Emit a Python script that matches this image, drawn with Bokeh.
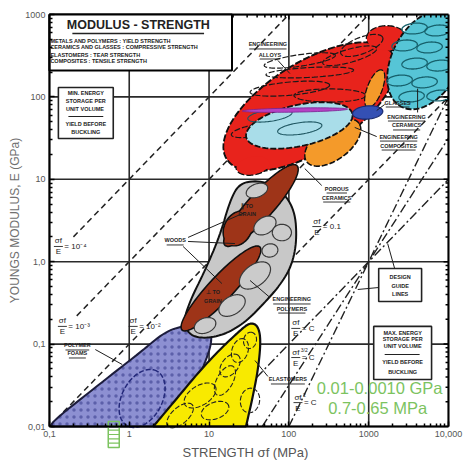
import numpy as np
from bokeh.plotting import figure
from bokeh.models import FixedTicker
from bokeh.core.properties import value
from bokeh.embed import file_html
from bokeh.resources import INLINE

# ---------------- axes ----------------
x_ticks = [0.1, 1, 10, 100, 1000, 10000]
x_tick_labels = ["0,1", "1", "10", "100", "1000", "10,000"]
y_ticks = [0.01, 0.1, 1, 10, 100, 1000]
y_tick_labels = ["0,01", "0,1", "1,0", "10", "100", "1000"]

# ---------------- guide lines: sigma_f / E = ratio ----------------
guide_ratio = [1e-4, 1e-3, 1e-2, 0.1]
guide_start_sigma = [0.2, 0.22, 0.1, 30]
guide_end_sigma = [100, 1000, 10000, 10000]
# design guide lines through one point, slopes 1, 3/2, 2
design_sigma0 = 1000.0
design_E0 = 1.0
design_slopes = [1.0, 1.5, 2.0]

# ---------------- material envelopes (sigma MPa, E GPa) ----------------
foam_sigma = [0.106, 0.109, 0.434, 1.37, 2.82, 5.0, 8.9, 10.9, 10.3, 6.7, 2.8]
foam_E = [0.01, 0.0115, 0.0333, 0.0791, 0.142, 0.168, 0.183, 0.138, 0.0835, 0.0315, 0.01]

elast_sigma = [2.0, 3.76, 7.72, 14.5, 24.4, 32.6, 41.0, 44.7, 41.0, 34.5, 29.0]
elast_E = [0.01, 0.0207, 0.0479, 0.091, 0.146, 0.183, 0.168, 0.111, 0.0479, 0.0207, 0.01]

poly_sigma = [24.4, 46.0, 81.7, 119, 126, 109, 77.2, 46.0, 28.2, 15.8, 8.91, 5.79, 4.73, 5.79, 8.91, 13.7, 18.3]
poly_E = [9.14, 9.66, 7.31, 4.18, 1.81, 0.90, 0.514, 0.294, 0.183, 0.131, 0.117, 0.127, 0.183, 0.338, 0.782, 2.08, 5.53]

# ellipses: centre sigma, centre E, semi-axes (decades), angle (deg)
wood_sigma = [44.7, 23.0, 14.1]
wood_E = [4.81, 2.53, 0.473]
wood_a = [0.66, 0.22, 0.70]
wood_b = [0.16, 0.17, 0.15]
wood_ang = [47, 60, 46]

pin_sigma = [39.8, 50.1, 81.7, 37.6, 19.4, 8.91, 57.9]
pin_E = [7.31, 2.75, 2.26, 0.681, 0.294, 0.168, 1.37]
pin_a = [0.14, 0.15, 0.12, 0.22, 0.18, 0.14, 0.10]
pin_b = [0.08, 0.10, 0.10, 0.13, 0.11, 0.09, 0.08]
pin_ang = [20, 30, 0, 35, 30, 20, 10]

foam_in_sigma, foam_in_E, foam_in_a, foam_in_b, foam_in_ang = 1.45, 0.0219, 0.38, 0.25, 60

yin_sigma = [7.72, 15.8, 24.4, 11.9, 32.6, 4.34, 18.3, 32.6]
yin_E = [0.0238, 0.0361, 0.0835, 0.0156, 0.0207, 0.0136, 0.055, 0.111]
yin_a = [0.22, 0.20, 0.15, 0.18, 0.15, 0.20, 0.16, 0.10]
yin_b = [0.12, 0.10, 0.10, 0.10, 0.12, 0.10, 0.10, 0.08]
yin_ang = [30, 60, 70, 20, 80, 40, 50, 75]

alloy_sigma = [183, 35.5, 1680]
alloy_E = [76.0, 14.7, 513]
alloy_a = [1.22, 0.21, 0.25]
alloy_b = [0.54, 0.11, 0.15]
alloy_ang = [31, 10, 0]

rin_sigma = [137, 183, 103, 326, 37.6, 579, 818]
rin_E = [277, 198, 126, 104, 39.1, 316, 421]
rin_a = [0.45, 0.55, 0.50, 0.45, 0.30, 0.35, 0.28]
rin_b = [0.07, 0.06, 0.08, 0.08, 0.07, 0.08, 0.10]
rin_ang = [8, 3, 5, 0, 10, 15, 20]

comp_sigma = [355, 1189]
comp_E = [28.0, 126]
comp_a = [0.40, 0.24]
comp_b = [0.21, 0.09]
comp_ang = [35, 68]
lcyan_sigma, lcyan_E, lcyan_a, lcyan_b, lcyan_ang = 135, 45.0, 0.68, 0.25, 12
lcin_sigma = [57.9, 137]
lcin_E = [59.4, 41.4]
magenta_sigma, magenta_E, magenta_a, magenta_b, magenta_ang = 119, 69.2, 0.66, 0.025, 1
glass_sigma, glass_E, glass_a, glass_b, glass_ang = 971, 64.7, 0.19, 0.08, 5
ceram_sigma, ceram_E, ceram_a, ceram_b, ceram_ang = 5250, 282, 0.65, 0.42, 60
cin_sigma = [3758, 7286, 2818, 5788, 3758, 7718, 2441, 5012, 3447, 7718]
cin_E = [676, 640, 421, 398, 254, 240, 158, 150, 101, 104]

# ---------------- labels ----------------
lab_text = ["ENGINEERING", "ALLOYS", "GLASSES", "ENGINEERING", "CERAMICS", "ENGINEERING", "COMPOSITES",
            "POROUS", "CERAMICS", "WOODS", "\u2225 TO", "GRAIN", "\u22a5 TO", "GRAIN",
            "ENGINEERING", "POLYMERS", "POLYMER", "FOAMS", "ELASTOMERS"]
lab_sigma = [54.6, 57.9, 2304, 2985, 2985, 2371, 2371, 398, 398, 3.76, 29.9, 29.9, 11.2, 11.2,
             109, 109, 0.224, 0.224, 97.2]
lab_E = [433, 327, 85.5, 57.8, 45.0, 33.0, 25.7, 7.73, 6.01, 1.81, 4.68, 3.74, 0.423, 0.338,
         0.348, 0.270, 0.0962, 0.0769, 0.0372]
lab_underline = [True, True, True, True, True, True, True, True, True, True, False, False, False, False,
                 True, True, True, True, True]

lead_s0 = [72.9, 1585, 4097, 1259, 258, 5.46, 5.46, 4.73, 57.9, 0.376, 54.6, 2113, 1334]
lead_E0 = [277, 80.9, 64.7, 33.0, 8.41, 1.97, 1.76, 1.53, 0.368, 0.0859, 0.0405, 0.826, 0.486]
lead_s1 = [103, 1259, 4097, 668, 158, 28.2, 21.1, 14.5, 32.6, 0.818, 37.6, 1728, 729]
lead_E1 = [192, 68.4, 126, 42.6, 13.5, 3.96, 1.66, 0.543, 0.592, 0.0565, 0.0632, 1.66, 0.460]

frac_num = ["\u03c3f"] * 7
frac_sup = ["", "", "", "", "", "3/2", "2"]
frac_rhs = ["= 10\u207b\u2074", "= 10\u207b\u00b3", "= 10\u207b\u00b2", "= 0.1", "= C", "= C", "= C"]
frac_sigma = [0.1296, 0.1454, 1.12, 224, 122, 122, 130]
frac_E = [1.53, 0.164, 0.164, 2.67, 0.155, 0.0687, 0.0195]

green_text = ["0.01-0.0010 GPa", "0.7-0.65 MPa"]
green_sigma = [1372, 1296]
green_E = [0.0297, 0.0170]

PXX, PXY = 80.0, 82.4   # pixels per decade (drawing helper only)
FONT = "Liberation Sans"


def ell(cs, ce, a, b, ang, n=90):
    t = np.linspace(0, 2 * np.pi, n)
    th = np.radians(ang)
    lx = np.log10(cs) + a * np.cos(t) * np.cos(th) - b * np.sin(t) * np.sin(th)
    ly = np.log10(ce) + a * np.cos(t) * np.sin(th) + b * np.sin(t) * np.cos(th)
    return list(10 ** lx), list(10 ** ly)


def chaikin(xs, ys, it=3, closed=True):
    pts = np.column_stack([np.log10(xs), np.log10(ys)])
    for _ in range(it):
        if closed:
            nxt = np.roll(pts, -1, axis=0)
            cur = pts
        else:
            nxt = pts[1:]
            cur = pts[:-1]
        q = 0.75 * cur + 0.25 * nxt
        r = 0.25 * cur + 0.75 * nxt
        new = np.empty((2 * len(q), 2))
        new[0::2] = q
        new[1::2] = r
        if not closed:
            new = np.vstack([pts[:1], new, pts[-1:]])
        pts = new
    return list(10 ** pts[:, 0]), list(10 ** pts[:, 1])


def off(v, px, per):
    return v * 10 ** (px / per)


p = figure(width=465, height=460, x_axis_type="log", y_axis_type="log", title=None,
           x_range=(10 ** (-1 - 49 / 80.0), 10 ** (4 + 17 / 80.0)),
           y_range=(10 ** (-2 - 34 / 82.4), 10 ** (3 + 14 / 82.4)),
           output_backend="svg", toolbar_location=None,
           min_border_left=0, min_border_right=0, min_border_top=0, min_border_bottom=0)
p.background_fill_color = "white"
p.border_fill_color = "white"
p.outline_line_color = None

minor_x = [k * 10.0 ** d for d in range(-1, 4) for k in range(2, 10)]
minor_y = [k * 10.0 ** d for d in range(-2, 3) for k in range(2, 10)]

bx = p.below[0]
bx.fixed_location = 0.01
bx.bounds = (0.1, 10000)
bx.ticker = FixedTicker(ticks=x_ticks, minor_ticks=minor_x)
bx.major_label_overrides = {t: l for t, l in zip(x_ticks, x_tick_labels)}
bx.axis_label = "STRENGTH  \u03c3f  (MPa)"
bx.axis_label_text_font_size = "13px"
bx.axis_label_text_color = "#555555"
bx.axis_label_standoff = 5
ly_ax = p.left[0]
ly_ax.fixed_location = 0.1
ly_ax.bounds = (0.01, 1000)
ly_ax.ticker = FixedTicker(ticks=y_ticks, minor_ticks=minor_y)
ly_ax.major_label_overrides = {t: l for t, l in zip(y_ticks, y_tick_labels)}
ly_ax.axis_label = "YOUNGS MODULUS, E (GPa)"
ly_ax.axis_label_text_font_size = "12px"
ly_ax.axis_label_text_color = "#707070"
ly_ax.axis_label_standoff = 0
for ax in (bx, ly_ax):
    ax.axis_line_width = 2
    ax.major_tick_in = 5
    ax.major_tick_out = 0
    ax.minor_tick_in = 3
    ax.minor_tick_out = 0
    ax.major_tick_line_width = 1.5
    ax.minor_tick_line_width = 1.5
    ax.major_label_text_font = FONT
    ax.major_label_text_font_size = "9px"
    ax.major_label_text_color = "#555555"
    ax.major_label_standoff = 4
    ax.axis_label_text_font = FONT
    ax.axis_label_text_font_style = "normal"

p.xgrid.visible = False
p.ygrid.visible = False
# decade grid lines within the chart area
p.segment(x_ticks, [0.01] * len(x_ticks), x_ticks, [1000] * len(x_ticks),
          line_color="#2a2a2a", line_width=1.6)
p.segment([0.1] * len(y_ticks), y_ticks, [10000] * len(y_ticks), y_ticks,
          line_color="#2a2a2a", line_width=1.6)

# guide lines
for r, s0, s1 in zip(guide_ratio, guide_start_sigma, guide_end_sigma):
    xs = [s0, s1]
    ys = [s / (r * 1000.0) for s in xs]
    p.line(xs, ys, line_dash="6 4", line_width=1.5, line_color="#222222")
for n in design_slopes:
    s_lo = design_sigma0 * (0.01 / design_E0) ** (1.0 / n)
    xs = [s_lo, 10000]
    ys = [design_E0 * (s / design_sigma0) ** n for s in xs]
    p.line(xs, ys, line_dash="9 3 2 3", line_width=1.4, line_color="#222222")

# polymer foams
fx, fy = chaikin(foam_sigma, foam_E, 3, closed=False)
p.patch(fx, fy, fill_color="#8d90d2", line_color="#1c1c3c", line_width=2,
        hatch_pattern=".", hatch_color="#3c4090", hatch_scale=7, hatch_alpha=0.6)
ex, ey = ell(foam_in_sigma, foam_in_E, foam_in_a, foam_in_b, foam_in_ang)
p.line(ex, ey, line_color="#23287a", line_width=1.5, line_dash="5 2")

# engineering polymers
gx, gy = chaikin(poly_sigma, poly_E, 3)
p.patch(gx, gy, fill_color="#c8c8c8", line_color="#111111", line_width=2)

# woods / porous ceramics
for cs, ce, a, b, an in zip(wood_sigma, wood_E, wood_a, wood_b, wood_ang):
    ex, ey = ell(cs, ce, a, b, an)
    p.patch(ex, ey, fill_color="#9e3418", line_color="#111111", line_width=1.8)
for cs, ce, a, b, an in zip(wood_sigma, wood_E, wood_a, wood_b, wood_ang):
    ex, ey = ell(cs, ce, a * 0.985, b * 0.93, an)
    p.patch(ex, ey, fill_color="#9e3418", line_color=None)

for cs, ce, a, b, an in zip(pin_sigma, pin_E, pin_a, pin_b, pin_ang):
    ex, ey = ell(cs, ce, a, b, an)
    p.patch(ex, ey, fill_color="#cbcbcb", line_color="#3a3a3a", line_width=1.2)

# elastomers
yx, yy = chaikin(elast_sigma, elast_E, 3, closed=False)
p.patch(yx, yy, fill_color="#f8ea00", line_color="#111111", line_width=2.2)
for cs, ce, a, b, an in zip(yin_sigma, yin_E, yin_a, yin_b, yin_ang):
    ex, ey = ell(cs, ce, a, b, an)
    p.line(ex, ey, line_color="#222222", line_width=1.1, line_dash="5 2")

# engineering alloys (union of ellipses)
for cs, ce, a, b, an in zip(alloy_sigma, alloy_E, alloy_a, alloy_b, alloy_ang):
    ex, ey = ell(cs, ce, a, b, an)
    p.patch(ex, ey, fill_color="#e8231c", line_color="#111111", line_width=2, line_dash="7 2")
for cs, ce, a, b, an in zip(alloy_sigma, alloy_E, alloy_a, alloy_b, alloy_ang):
    ex, ey = ell(cs, ce, a * 0.99, b * 0.97, an)
    p.patch(ex, ey, fill_color="#e8231c", line_color=None)
for cs, ce, a, b, an in zip(rin_sigma, rin_E, rin_a, rin_b, rin_ang):
    ex, ey = ell(cs, ce, a, b, an)
    p.line(ex, ey, line_color="#1a1a1a", line_width=1.2, line_dash="6 2")

# composites
for cs, ce, a, b, an in zip(comp_sigma, comp_E, comp_a, comp_b, comp_ang):
    ex, ey = ell(cs, ce, a, b, an)
    p.patch(ex, ey, fill_color="#f49a2a", line_color="#111111", line_width=1.8, line_dash="6 2")
for cs, ce, a, b, an in zip(comp_sigma, comp_E, comp_a, comp_b, comp_ang):
    ex, ey = ell(cs, ce, a * 0.98, b * 0.94, an)
    p.patch(ex, ey, fill_color="#f49a2a", line_color=None)
ex, ey = ell(lcyan_sigma, lcyan_E, lcyan_a, lcyan_b, lcyan_ang)
p.patch(ex, ey, fill_color="#a9dde9", line_color="#111111", line_width=1.8, line_dash="6 2")
for cs, ce in zip(lcin_sigma, lcin_E):
    ex, ey = ell(cs, ce, 0.28, 0.07, 8)
    p.line(ex, ey, line_color="#1d5560", line_width=1.1)
ex, ey = ell(magenta_sigma, magenta_E, magenta_a, magenta_b, magenta_ang)
p.patch(ex, ey, fill_color="#b542c4", line_color="#7a2290", line_width=0.8)
ex, ey = ell(glass_sigma, glass_E, glass_a, glass_b, glass_ang)
p.patch(ex, ey, fill_color="#3450b4", line_color="#1a2a70", line_width=1.2)

# engineering ceramics
ex, ey = ell(ceram_sigma, ceram_E, ceram_a, ceram_b, ceram_ang)
p.patch(ex, ey, fill_color="#56c5d6", line_color="#111111", line_width=1.8, line_dash="6 2")
for cs, ce in zip(cin_sigma, cin_E):
    ex, ey = ell(cs, ce, 0.16, 0.065, 5)
    p.line(ex, ey, line_color="#17616c", line_width=1.3)

# keep everything inside the chart border (mask margins)
p.quad(left=[0.01], right=[10 ** 4.5], bottom=[1000], top=[10 ** 3.5], fill_color="white", line_color=None)
p.quad(left=[10000], right=[10 ** 4.5], bottom=[0.001], top=[10 ** 3.5], fill_color="white", line_color=None)
# top and right border with inward ticks
p.segment([0.1, 10000], [1000, 0.01], [10000, 10000], [1000, 1000], line_color="black", line_width=2)
tx = x_ticks[1:-1]
p.segment(tx, [1000] * len(tx), tx, [off(1000, -5, PXY)] * len(tx), line_color="black", line_width=1.5)
p.segment(minor_x, [1000] * len(minor_x), minor_x, [off(1000, -3, PXY)] * len(minor_x),
          line_color="black", line_width=1.5)
ty = y_ticks[1:-1]
p.segment([10000] * len(ty), ty, [off(10000, -5, PXX)] * len(ty), ty, line_color="black", line_width=1.5)
p.segment([10000] * len(minor_y), minor_y, [off(10000, -3, PXX)] * len(minor_y), minor_y,
          line_color="black", line_width=1.5)

# ---------------- boxes ----------------
p.quad(left=[0.1], right=[19.4], bottom=[209], top=[1000], fill_color="white",
       line_color="black", line_width=2)
p.quad(left=[0.1296, 1155, 1334], right=[0.631, 6130, 4597], bottom=[31.3, 0.0372, 0.329],
       top=[130, 0.164, 0.826], fill_color="white", line_color="#222222", line_width=1.6)

p.text([1.30], [736], text=["MODULUS - STRENGTH"], text_font=value(FONT), text_font_style="bold",
       text_font_size="12.5px", text_align="center", text_baseline="middle", text_color="#222222")
p.segment([0.194], [587], [8.66], [587], line_color="#222222", line_width=1.5)
sub_lines = ["METALS AND POLYMERS : YIELD STRENGTH", "CERAMICS AND GLASSES : COMPRESSIVE STRENGTH",
             "ELASTOMERS : TEAR STRENGTH", "COMPOSITES : TENSILE STRENGTH"]
p.text([0.1029] * 4, [483, 398, 327, 269], text=sub_lines, text_font=value(FONT),
       text_font_style="bold", text_font_size="5.5px", text_align="left", text_baseline="middle",
       text_color="#222222")

box_txt = ["MIN. ENERGY", "STORAGE PER", "UNIT  VOLUME", "YIELD BEFORE", "BUCKLING",
           "MAX. ENERGY", "STORAGE PER", "UNIT VOLUME", "YIELD BEFORE", "BUCKLING",
           "DESIGN", "GUIDE", "LINES"]
box_x = [0.286] * 5 + [2661] * 5 + [2477] * 3
box_y = [110, 90.4, 72.2, 47.5, 38.0, 0.138, 0.114, 0.0936, 0.0598, 0.0465, 0.661, 0.514, 0.400]
p.text(box_x, box_y, text=box_txt, text_font=value(FONT), text_font_style="bold",
       text_font_size="5.5px", text_align="center", text_baseline="middle", text_color="#222222")
p.segment([0.173, 1585], [57.8, 0.0748], [0.473, 4340], [57.8, 0.0748], line_color="#222222", line_width=1.2)

# material labels
p.text(lab_sigma, lab_E, text=lab_text, text_font=value(FONT), text_font_style="bold",
       text_font_size="5.5px", text_align="center", text_baseline="middle", text_color="#1e1e1e")
us0, us1, uy = [], [], []
for t, s, e, u in zip(lab_text, lab_sigma, lab_E, lab_underline):
    if u:
        w = len(t) * 3.4
        us0.append(off(s, -w / 2, PXX))
        us1.append(off(s, w / 2, PXX))
        uy.append(off(e, -4.5, PXY))
p.segment(us0, uy, us1, uy, line_color="#1e1e1e", line_width=0.9)
p.segment(lead_s0, lead_E0, lead_s1, lead_E1, line_color="#1e1e1e", line_width=1.0)

# fraction labels
p.text(frac_sigma, [off(e, 5.5, PXY) for e in frac_E], text=frac_num, text_font=value(FONT),
       text_font_size="8px", text_align="center", text_baseline="middle", text_color="#222222")
p.text([off(s, 5, PXX) for s in frac_sigma], [off(e, 8, PXY) for e in frac_E], text=frac_sup,
       text_font=value(FONT), text_font_size="5px", text_align="left", text_baseline="middle",
       text_color="#222222")
p.text(frac_sigma, [off(e, -5.5, PXY) for e in frac_E], text=["E"] * len(frac_E), text_font=value(FONT),
       text_font_size="8px", text_align="center", text_baseline="middle", text_color="#222222")
p.segment([off(s, -4.5, PXX) for s in frac_sigma], frac_E, [off(s, 4.5, PXX) for s in frac_sigma], frac_E,
          line_color="#222222", line_width=0.9)
p.text([off(s, 6, PXX) for s in frac_sigma], frac_E, text=frac_rhs, text_font=value(FONT),
       text_font_size="8px", text_align="left", text_baseline="middle", text_color="#222222")

# green annotations
green = "#7cc35f"
p.text(green_sigma, green_E, text=green_text, text_font=value(FONT), text_font_size="16.5px",
       text_color=green, text_align="center", text_baseline="middle")
lad_l, lad_r, lad_b, lad_t = 0.546, 0.750, 0.00556, 0.0115
p.quad(left=[lad_l], right=[lad_r], bottom=[lad_b], top=[lad_t], fill_color=None,
       line_color=green, line_width=1.5)
lad_y = list(10 ** np.linspace(np.log10(lad_b), np.log10(lad_t), 7)[1:-1])
p.segment([lad_l] * len(lad_y), lad_y, [lad_r] * len(lad_y), lad_y, line_color=green, line_width=1.2)

open("out.html", "w").write(file_html(p, INLINE))
